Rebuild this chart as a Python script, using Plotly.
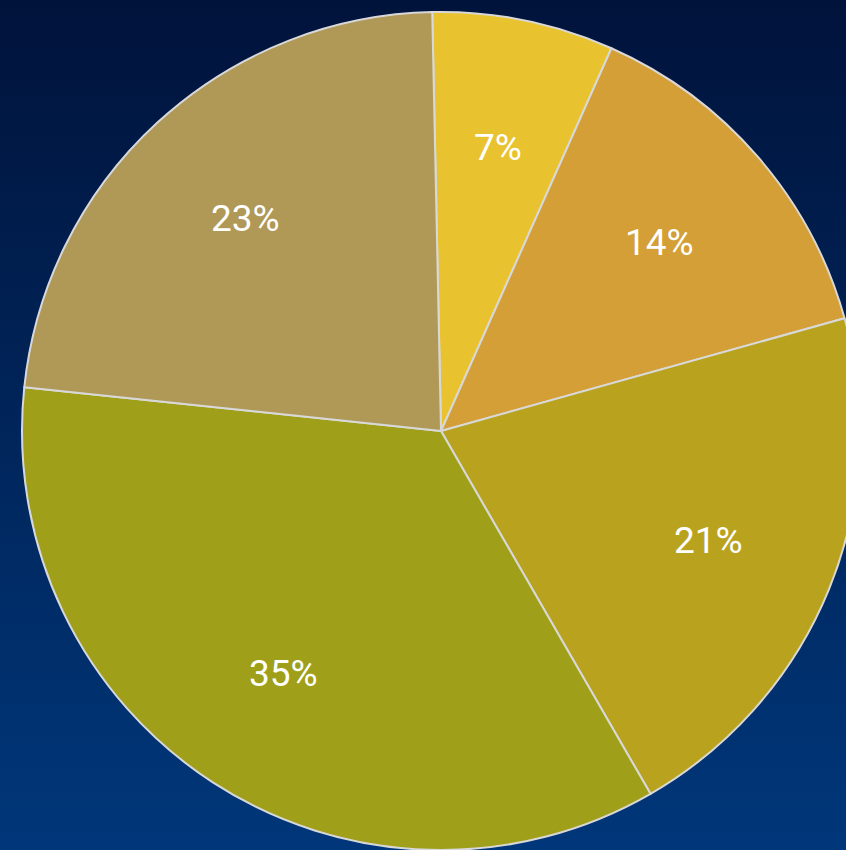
import base64
import math
import plotly.graph_objects as go

labels = ["A", "B", "C", "D", "E"]
values = [7, 14, 21, 35, 23]
colors = ["#E9C32F", "#D39F36", "#B9A31E", "#9F9F1A", "#B09857"]

W, H = 882, 850
ROT = -1.2

svg = f'''<svg xmlns="http://www.w3.org/2000/svg" width="{W}" height="{H}" preserveAspectRatio="none">
<defs><linearGradient id="g" x1="0" y1="0" x2="0" y2="1">
<stop offset="0" stop-color="#00133B"/><stop offset="1" stop-color="#00377A"/>
</linearGradient></defs>
<rect width="{W}" height="{H}" fill="url(#g)"/></svg>'''
uri = "data:image/svg+xml;base64," + base64.b64encode(svg.encode()).decode()

ml, mr, mt, mb = 22, 22, 12, 0
pw, ph = W - ml - mr, H - mt - mb

fig = go.Figure(go.Pie(
    labels=labels, values=values, sort=False, direction="clockwise", rotation=ROT,
    marker=dict(colors=colors, line=dict(color="#D8D8D8", width=2)),
    textinfo="none", hoverinfo="label+percent", showlegend=False,
))

# percentage labels placed at the middle angle of each slice, ~0.69 of radius
total = sum(values)
annotations = []
cum = 0
for v in values:
    mid = math.radians(ROT + (cum + v / 2) / total * 360)
    cum += v
    annotations.append(dict(
        x=0.5 + 0.5 * 0.69 * math.sin(mid), y=0.5 + 0.5 * 0.69 * math.cos(mid),
        xref="paper", yref="paper", showarrow=False,
        text=f"{round(v / total * 100)}%",
        font=dict(family="Roboto", size=37, color="white"),
        xanchor="center", yanchor="middle",
    ))

fig.update_layout(
    width=W, height=H, margin=dict(l=ml, r=mr, t=mt, b=mb),
    paper_bgcolor="rgba(0,0,0,0)", plot_bgcolor="rgba(0,0,0,0)",
    annotations=annotations,
    images=[dict(source=uri, xref="paper", yref="paper",
                 x=-ml / pw, y=1 + mt / ph, sizex=W / pw, sizey=H / ph,
                 xanchor="left", yanchor="top", sizing="stretch", layer="below")],
)
fig.write_html("out.html", config={"displayModeBar": False},
               post_script="document.body.style.margin='0';document.body.style.overflow='hidden';document.documentElement.style.overflow='hidden';")
